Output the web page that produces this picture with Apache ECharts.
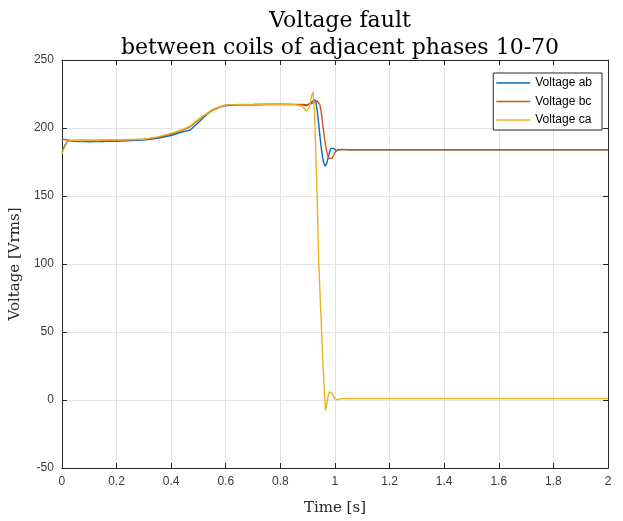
<!DOCTYPE html>
<html>
<head>
<meta charset="utf-8">
<script src="https://cdn.jsdelivr.net/npm/echarts@6/dist/echarts.min.js"></script>
<style>
  html, body { margin: 0; padding: 0; background: #fff; }
  #chart { width: 623px; height: 521px; }
</style>
</head>
<body>
<div id="chart"></div>
<script>
// time samples [s]
const time = [0, 0.01, 0.02, 0.03, 0.05, 0.08, 0.1, 0.13, 0.15, 0.18,
  0.2, 0.25, 0.3, 0.35, 0.4, 0.43, 0.45, 0.47, 0.5, 0.53,
  0.55, 0.58, 0.6, 0.65, 0.7, 0.75, 0.8, 0.85, 0.88, 0.895,
  0.905, 0.915, 0.92, 0.925, 0.93, 0.935, 0.94, 0.945, 0.95, 0.955,
  0.96, 0.965, 0.97, 0.975, 0.98, 0.985, 0.99, 0.995, 1.0, 1.005,
  1.01, 1.015, 1.02, 1.03, 1.04, 1.05, 1.07, 1.1, 1.3, 1.5,
  1.7, 2.0];

const voltageAb = [182, 187, 190, 190.5, 190, 190.3, 189.8, 190.2, 190, 190.4,
  190.3, 190.8, 191.2, 192.5, 194.5, 196.5, 197.5, 198.5, 204, 210,
  213, 215.5, 216.5, 217, 217, 217.2, 217.3, 217.2, 217, 216.5,
  217.5, 219, 220, 221, 219.5, 213, 204, 194, 185, 178,
  173.5, 172, 174, 178, 182, 185, 185.5, 185, 184, 183.3,
  183.5, 184, 184.3, 184.3, 184.1, 184, 184, 184, 184, 184,
  184, 184];

const voltageBc = [191.8, 191.5, 191.2, 191, 190.8, 191, 190.6, 191, 190.8, 191.2,
  191, 191.3, 191.8, 193, 195.5, 197.5, 199, 201, 206, 210.5,
  213, 215.5, 216.8, 217.2, 217.3, 217.5, 217.5, 217.4, 217.3, 217.2,
  217.5, 218, 218.5, 219, 219.5, 220, 220, 217, 211, 203,
  195, 188, 182.5, 179, 177.5, 177, 178, 180, 182, 183.3,
  184, 184.3, 184.3, 184.1, 184, 184, 184, 184, 184, 184,
  184, 184];

const voltageCa = [181, 186, 189.5, 190.8, 191, 190.8, 191.2, 190.8, 191.3, 190.9,
  191.2, 191.5, 191.6, 193.5, 196, 198, 199.5, 201.5, 206.5, 210.5,
  213.5, 215.8, 217, 217.4, 217.4, 217.6, 217.5, 217.4, 216, 212.5,
  215, 224, 226.5, 212, 180, 148, 105, 80, 55, 32,
  12, -7.5, -3, 3, 6, 6.2, 4.5, 2.5, 1, 0.3,
  0.1, 0.4, 0.9, 1, 1, 1, 1, 1, 1, 1,
  1, 1];

const seriesNames = ['Voltage ab', 'Voltage bc', 'Voltage ca'];
const colors = ['#0072BD', '#D95319', '#EDB120'];

const pair = (vals) => time.map((t, i) => [t, vals[i]]);

const chart = echarts.init(document.getElementById('chart'));
const axisColor = '#262626';
const gridColor = '#e3e3e3';

chart.setOption({
  animation: false,
  title: {
    text: 'Voltage fault\nbetween coils of adjacent phases 10-70',
    left: 335,
    textAlign: 'center',
    top: 3,
    textStyle: {
      fontFamily: 'DejaVu Serif',
      fontSize: 22,
      fontWeight: 'normal',
      color: '#000',
      lineHeight: 27
    }
  },
  legend: {
    data: seriesNames,
    orient: 'vertical',
    right: 21,
    top: 73,
    icon: 'rect',
    itemWidth: 34,
    itemHeight: 1.5,
    itemGap: 4.5,
    padding: [3, 10, 3, 3],
    borderColor: axisColor,
    borderWidth: 1,
    borderRadius: 0,
    backgroundColor: '#fff',
    textStyle: { fontFamily: 'Liberation Sans', fontSize: 12, lineHeight: 14, color: '#000' }
  },
  grid: { left: 61, right: 15, top: 60, bottom: 48 },
  xAxis: [{
    type: 'value',
    min: 0, max: 2, interval: 0.2,
    name: 'Time [s]',
    nameLocation: 'middle',
    nameGap: 33,
    nameTextStyle: { fontFamily: 'DejaVu Serif', fontSize: 15, color: '#262626' },
    axisLine: { onZero: false, lineStyle: { color: axisColor } },
    axisTick: { inside: true, length: 5, lineStyle: { color: axisColor } },
    axisLabel: {
      fontFamily: 'Liberation Sans', fontSize: 12, color: '#3a3a3a', margin: 8,
      formatter: v => String(+v.toFixed(1))
    },
    splitLine: { show: true, lineStyle: { color: gridColor } }
  }, {
    type: 'value', position: 'top',
    min: 0, max: 2, interval: 0.2,
    axisLine: { show: true, onZero: false, lineStyle: { color: axisColor } },
    axisTick: { inside: true, length: 5, lineStyle: { color: axisColor } },
    axisLabel: { show: false },
    splitLine: { show: false }
  }],
  yAxis: [{
    type: 'value',
    min: -50, max: 250, interval: 50,
    name: 'Voltage [Vrms]',
    nameLocation: 'middle',
    nameGap: 28,
    nameTextStyle: { fontFamily: 'DejaVu Serif', fontSize: 15, color: '#262626' },
    axisLine: { show: true, onZero: false, lineStyle: { color: axisColor } },
    axisTick: { show: true, inside: true, length: 5, lineStyle: { color: axisColor } },
    axisLabel: { fontFamily: 'Liberation Sans', fontSize: 12, color: '#3a3a3a', margin: 8 },
    splitLine: { show: true, lineStyle: { color: gridColor } }
  }, {
    type: 'value', position: 'right',
    min: -50, max: 250, interval: 50,
    axisLine: { show: true, onZero: false, lineStyle: { color: axisColor } },
    axisTick: { show: true, inside: true, length: 5, lineStyle: { color: axisColor } },
    axisLabel: { show: false },
    splitLine: { show: false }
  }],
  series: [voltageAb, voltageBc, voltageCa].map((vals, i) => ({
    name: seriesNames[i],
    type: 'line',
    data: pair(vals),
    symbol: 'none',
    color: colors[i],
    lineStyle: { width: 1.4, color: colors[i] }
  }))
});
</script>
</body>
</html>
